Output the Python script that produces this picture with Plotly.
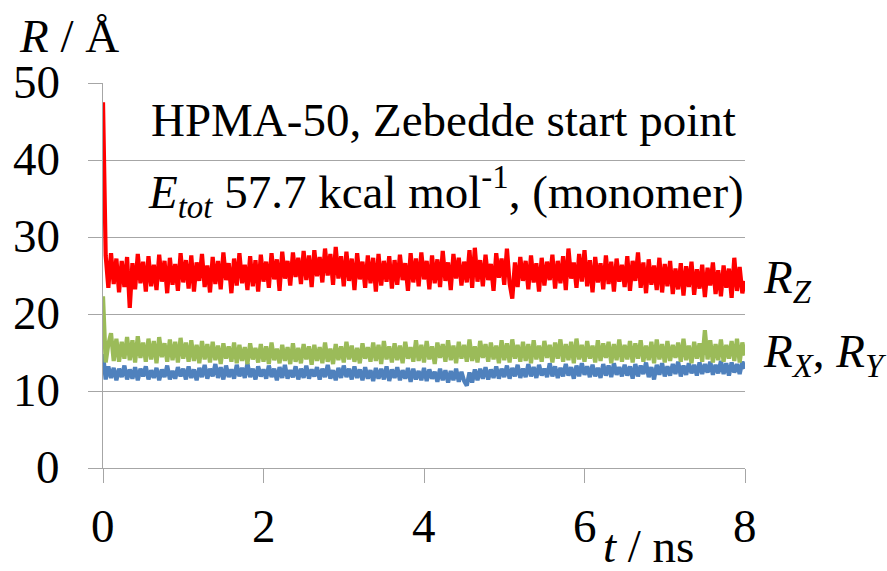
import plotly.graph_objects as go

# R_Z (red), sampled uniformly over 0..8 ns
r_z = [
    47.5, 27.6, 23.4, 27.9, 23.9, 27.2, 22.8, 26.9, 23.5, 27.4,
    20.8, 26.6, 23.2, 27.8, 24.0, 26.8, 22.9, 27.5, 23.6, 26.4,
    23.1, 27.7, 24.2, 26.9, 22.7, 27.3, 23.8, 26.5, 23.0, 27.9,
    24.1, 27.0, 23.3, 27.6, 22.9, 26.7, 24.3, 27.8, 23.5, 26.3,
    22.8, 27.4, 23.9, 26.9, 23.2, 28.0, 24.4, 26.6, 22.7, 27.2,
    23.7, 27.9, 24.0, 26.4, 23.1, 27.5, 23.6, 27.0, 22.9, 27.7,
    24.2, 26.8, 23.4, 27.9, 24.5, 27.1, 23.0, 28.1, 24.6, 26.9,
    23.7, 28.0, 24.8, 27.3, 23.9, 28.2, 24.4, 27.6, 23.5, 28.3,
    24.9, 27.4, 24.1, 28.5, 25.0, 27.8, 23.8, 28.7, 24.6, 27.5,
    23.6, 28.1, 24.3, 27.2, 23.1, 27.9, 24.5, 26.8, 23.4, 27.6,
    24.0, 27.3, 22.9, 27.8, 23.7, 26.9, 24.2, 27.5, 23.3, 27.0,
    23.8, 27.7, 24.4, 26.6, 23.0, 27.9, 24.1, 27.2, 23.6, 28.0,
    24.5, 26.9, 23.2, 27.6, 24.0, 27.1, 23.5, 28.2, 24.3, 26.7,
    23.1, 27.8, 24.6, 27.3, 23.7, 26.8, 24.1, 28.3, 23.4, 28.6,
    24.2, 27.0, 23.6, 27.7, 24.4, 26.5, 23.0, 27.9, 24.7, 27.2,
    23.8, 28.5, 24.0, 22.0, 26.7, 23.5, 27.4, 24.3, 26.9, 23.2,
    27.6, 24.1, 26.6, 22.9, 27.3, 23.7, 26.8, 24.4, 27.7, 23.3,
    26.9, 24.0, 27.5, 23.1, 28.5, 24.6, 26.7, 23.4, 27.8, 24.2,
    28.3, 23.6, 27.0, 22.8, 27.4, 24.1, 26.6, 23.2, 27.6, 23.9,
    26.8, 22.9, 27.2, 24.2, 26.4, 23.5, 27.5, 23.0, 26.9, 24.3,
    28.0, 23.4, 26.7, 22.7, 27.1, 23.8, 26.3, 23.1, 27.3, 22.8,
    26.5, 23.6, 26.9, 22.6, 25.9, 23.2, 26.6, 22.4, 26.2, 23.5,
    26.8, 22.5, 25.8, 23.3, 26.4, 22.2, 26.0, 23.7, 26.7, 22.6,
    25.7, 22.3, 26.3, 23.4, 25.9, 22.1, 27.3, 23.0, 26.1, 22.7,
    24.3,
]

# R_Y (green)
r_y = [
    22.3, 13.7, 16.1, 17.5, 13.9, 16.8, 13.8, 16.4, 14.2, 17.0,
    14.0, 16.6, 13.7, 17.1, 14.3, 16.3, 13.8, 16.8, 14.1, 16.5,
    13.6, 17.0, 14.4, 16.2, 13.8, 16.7, 14.0, 16.4, 13.7, 16.9,
    14.2, 16.3, 13.8, 16.6, 13.9, 16.0, 13.6, 16.5, 14.1, 16.1,
    13.7, 16.4, 14.0, 15.9, 13.5, 16.2, 14.2, 15.8, 13.8, 16.3,
    13.6, 16.0, 13.9, 15.7, 13.5, 16.2, 14.1, 15.6, 13.7, 16.1,
    13.8, 15.8, 13.5, 16.3, 14.0, 15.5, 13.6, 16.0, 13.9, 15.7,
    13.5, 16.2, 13.8, 15.6, 13.6, 16.1, 14.1, 15.8, 13.4, 16.0,
    13.9, 15.7, 13.6, 16.3, 13.8, 15.5, 13.5, 16.1, 14.0, 15.8,
    13.7, 16.4, 14.1, 15.9, 13.8, 15.6, 13.6, 16.2, 14.2, 15.7,
    13.8, 16.3, 13.9, 16.0, 13.5, 16.5, 14.1, 15.8, 13.7, 16.2,
    14.0, 15.9, 13.6, 16.4, 14.2, 15.7, 13.8, 16.6, 13.9, 16.0,
    13.7, 16.5, 14.1, 15.8, 13.5, 16.3, 14.3, 16.1, 13.8, 16.6,
    14.0, 15.9, 13.6, 16.4, 14.2, 16.0, 13.8, 16.7, 13.9, 15.8,
    13.7, 16.5, 14.3, 16.1, 13.8, 16.3, 14.1, 15.9, 13.6, 16.6,
    14.0, 16.2, 13.7, 16.7, 14.2, 16.0, 13.8, 16.4, 13.9, 16.1,
    13.6, 16.6, 14.1, 15.9, 13.8, 16.5, 14.3, 16.0, 13.7, 16.3,
    14.2, 16.7, 13.8, 16.1, 14.0, 16.4, 13.6, 16.8, 14.1, 16.0,
    13.8, 16.5, 14.2, 15.9, 13.7, 16.6, 13.9, 16.2, 14.3, 16.4,
    13.6, 16.1, 14.0, 16.7, 13.8, 16.0, 14.1, 16.5, 13.7, 16.2,
    14.2, 16.6, 13.8, 15.9, 14.0, 16.4, 13.6, 16.7, 14.1, 16.1,
    13.7, 16.5, 13.9, 16.0, 14.3, 16.3, 13.8, 16.8, 14.0, 15.9,
    13.6, 16.4, 14.2, 16.2, 13.8, 17.9, 14.1, 16.6, 13.7, 16.1,
    14.0, 16.7, 13.8, 16.0, 14.2, 16.5, 13.9, 16.8, 13.7, 16.3,
    14.6,
]

# R_X (blue)
r_x = [
    14.8, 11.5, 13.2, 11.7, 13.0, 11.4, 12.9, 11.8, 13.3, 11.5,
    12.8, 11.6, 13.1, 11.4, 12.9, 11.9, 13.2, 11.5, 12.7, 11.7,
    13.0, 11.4, 12.8, 11.8, 13.3, 11.5, 12.6, 11.6, 13.1, 11.9,
    12.9, 11.5, 13.2, 11.7, 12.8, 11.4, 13.0, 11.8, 13.4, 11.6,
    12.9, 11.9, 13.5, 11.7, 13.1, 11.5, 13.3, 11.8, 12.8, 11.6,
    13.4, 11.9, 13.0, 11.7, 13.6, 11.8, 12.9, 11.5, 13.2, 11.9,
    12.8, 11.6, 13.3, 11.8, 12.9, 11.4, 13.1, 11.7, 13.4, 11.6,
    12.7, 11.8, 13.2, 11.5, 12.9, 11.7, 13.3, 11.6, 12.8, 11.9,
    13.1, 11.5, 12.9, 11.8, 13.4, 11.6, 12.7, 11.4, 13.0, 11.7,
    13.3, 11.8, 12.9, 11.5, 13.2, 11.7, 12.8, 11.4, 13.1, 11.6,
    12.7, 11.3, 13.0, 11.6, 12.9, 11.5, 13.2, 11.3, 12.8, 11.7,
    13.1, 11.4, 12.7, 11.6, 13.0, 11.2, 12.9, 11.5, 12.6, 11.4,
    13.0, 11.3, 12.8, 11.6, 12.5, 11.2, 12.9, 11.4, 12.7, 11.1,
    12.6, 11.4, 12.9, 11.2, 12.5, 11.3, 10.7, 12.4, 11.1, 12.8,
    11.4, 12.9, 11.6, 13.1, 11.5, 12.8, 11.7, 13.2, 11.6, 12.9,
    11.8, 13.3, 11.6, 13.0, 11.9, 13.4, 11.7, 12.9, 11.8, 13.5,
    11.9, 13.1, 11.7, 13.4, 12.0, 12.9, 11.8, 13.6, 11.9, 13.2,
    11.7, 13.0, 11.9, 13.5, 12.0, 13.1, 11.6, 13.3, 11.9, 13.6,
    12.1, 13.2, 11.8, 13.4, 11.9, 13.0, 11.7, 13.5, 12.0, 13.3,
    11.8, 13.6, 12.1, 13.1, 11.9, 13.4, 12.0, 13.2, 11.6, 13.5,
    11.9, 13.3, 12.2, 13.7, 11.8, 13.1, 11.5, 13.4, 12.1, 13.6,
    11.9, 13.2, 12.0, 13.5, 12.2, 13.8, 11.9, 13.3, 12.1, 13.6,
    12.3, 13.4, 12.0, 13.7, 12.2, 13.5, 12.4, 13.8, 12.1, 13.4,
    12.3, 13.9, 12.2, 13.6, 12.0, 13.7, 12.4, 13.5, 12.2, 13.8,
    12.9,
]

t_start, t_end = 0.0, 8.0
x_ticks = [0, 2, 4, 6, 8]
y_ticks = [0, 10, 20, 30, 40, 50]

FONT = "Times New Roman"
GRID = "#a6a6a6"
W, H = 887, 571
L, R, T, B = 102.5, 142, 82.7, 103.3
PW, PH = W - L - R, H - T - B

def px(X):
    return (X - L) / PW

def py(Y):
    return (H - B - Y) / PH

fig = go.Figure()
for vals, col, name in [(r_x, "#4f81bd", "R_X"), (r_y, "#9bbb59", "R_Y"), (r_z, "#ff0000", "R_Z")]:
    n = len(vals)
    t = [t_start + (t_end - t_start) * k / (n - 1) for k in range(n)]
    fig.add_trace(go.Scatter(x=t, y=vals, mode="lines", name=name,
                             line=dict(color=col, width=4.2), showlegend=False))

fig.update_layout(
    template="none",
    width=W, height=H,
    margin=dict(l=L, r=R, t=T, b=B, pad=0),
    paper_bgcolor="white", plot_bgcolor="white",
    font=dict(family=FONT, size=47, color="black"),
    xaxis=dict(range=[t_start, t_end], tickvals=x_ticks, showgrid=False, zeroline=False,
               automargin=False, showticklabels=False,
               showline=True, linecolor=GRID, linewidth=1,
               ticks="outside", ticklen=14, tickcolor=GRID, tickwidth=1),
    yaxis=dict(range=[0, 50], tickvals=y_ticks, showgrid=True, gridcolor=GRID, gridwidth=1,
               automargin=False, showticklabels=False,
               zeroline=False, showline=True, linecolor=GRID, linewidth=1,
               ticks="outside", ticklen=14, tickcolor=GRID, tickwidth=1),
)

def ann(text, X, Yc):
    fig.add_annotation(text=text, x=px(X), y=py(Yc), xref="paper", yref="paper",
                       xanchor="left", yanchor="middle", showarrow=False,
                       font=dict(family=FONT, size=47, color="black"))

# tick labels, placed through the axes' own scales
for v in y_ticks:
    fig.add_annotation(text=str(v), x=px(61), y=v, xref="paper", yref="y",
                       xanchor="right", yanchor="middle", yshift=1, showarrow=False,
                       font=dict(family=FONT, size=47, color="black"))
for v in x_ticks:
    fig.add_annotation(text=str(v), x=v, y=py(526), xref="x", yref="paper",
                       xanchor="center", yanchor="middle", showarrow=False,
                       font=dict(family=FONT, size=47, color="black"))

ann("HPMA-50, Zebedde start point", 149, 119.5)
ann("<i>E<sub>tot</sub></i> 57.7 kcal mol<sup>-1</sup>, (monomer)", 146, 192)
ann("<i>R<sub>Z</sub></i>", 761, 280)
ann("<i>R<sub>X</sub></i>, <i>R<sub>Y</sub></i>", 761, 354)
ann("<i>R</i> / Å", 16, 36)
ann("<i>t</i> / ns", 601, 546)

fig.write_html("out.html")
